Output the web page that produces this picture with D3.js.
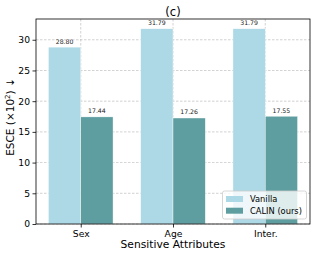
<!DOCTYPE html>
<html><head><meta charset="utf-8">
<script src="https://cdn.jsdelivr.net/npm/d3@7"></script>
<style>body{margin:0;background:#fff}svg{display:block;font-family:"DejaVu Sans",sans-serif}</style>
</head><body><svg id="c" width="316" height="257"></svg>
<script>
const categories = ["Sex", "Age", "Inter."];
const seriesNames = ["Vanilla", "CALIN (ours)"];
const vanilla = [28.80, 31.79, 31.79];
const calin = [17.44, 17.26, 17.55];
const yTicks = [0, 5, 10, 15, 20, 25, 30];
const colors = ["#add8e6", "#5f9ea0"];

const svg = d3.select("#c");
const L = 36, R = 310, T = 19, B = 224;
const x = d3.scaleLinear().domain([-0.485, 2.485]).range([L, R]);
const y = d3.scaleLinear().domain([0, 33.38]).range([B, T]);
const bw = 0.35;

// grid
const g = svg.append("g");
g.selectAll("line.h").data(yTicks).join("line")
  .attr("x1", L).attr("x2", R).attr("y1", d => y(d)).attr("y2", d => y(d))
  .attr("stroke", "#b0b0b0").attr("stroke-width", 0.8).attr("stroke-dasharray", "2.5,1.5").attr("opacity", 0.7);
g.selectAll("line.v").data(categories).join("line")
  .attr("x1", (d,i) => x(i)).attr("x2", (d,i) => x(i)).attr("y1", T).attr("y2", B)
  .attr("stroke", "#b0b0b0").attr("stroke-width", 0.8).attr("stroke-dasharray", "2.5,1.5").attr("opacity", 0.7);

const series = [vanilla, calin];
series.forEach((vals, s) => {
  const off = s === 0 ? -bw/2 : bw/2;
  svg.append("g").selectAll("rect").data(vals).join("rect")
    .attr("x", (d,i) => x(i + off - bw/2))
    .attr("width", x(bw) - x(0))
    .attr("y", d => y(d)).attr("height", d => B - y(d))
    .attr("fill", colors[s]).attr("stroke", "#fff").attr("stroke-width", 0.4);
  svg.append("g").selectAll("text").data(vals).join("text")
    .attr("x", (d,i) => x(i + off)).attr("y", d => y(d) - 3.5)
    .attr("text-anchor", "middle").attr("font-size", 6.2).attr("fill", "#222")
    .text(d => d.toFixed(2));
});

// axes
const yAxis = d3.axisLeft(y).tickValues(yTicks).tickSize(3.5).tickPadding(2.5);
const ya = svg.append("g").attr("transform", `translate(${L},0)`).call(yAxis);
const xAxis = d3.axisBottom(x).tickValues([0,1,2]).tickFormat(i => categories[i]).tickSize(3.5).tickPadding(2.5);
const xa = svg.append("g").attr("transform", `translate(0,${B})`).call(xAxis);
[ya, xa].forEach(a => {
  a.select(".domain").remove();
  a.selectAll("text").attr("font-size", 9.2).attr("fill", "#000").attr("font-family", "DejaVu Sans");
  a.selectAll("line").attr("stroke", "#000").attr("stroke-width", 0.8);
});
svg.append("rect").attr("x", L).attr("y", T).attr("width", R - L).attr("height", B - T)
  .attr("fill", "none").attr("stroke", "#000").attr("stroke-width", 0.8);

// labels
svg.append("text").attr("x", (L+R)/2).attr("y", 16).attr("text-anchor", "middle").attr("font-size", 11.5).text("(c)");
svg.append("text").attr("x", (L+R)/2).attr("y", 248).attr("text-anchor", "middle").attr("font-size", 10.7).text("Sensitive Attributes");
const yl = svg.append("text").attr("transform", "translate(14,117) rotate(-90)").attr("text-anchor", "middle").attr("font-size", 10.5);
yl.append("tspan").text("ESCE (×10");
yl.append("tspan").attr("font-size", 7).attr("dy", -4).text("2");
yl.append("tspan").attr("dy", 4).text(") ↓");

// legend
const lg = svg.append("g");
lg.append("rect").attr("x", 222.5).attr("y", 191).attr("width", 84).attr("height", 28).attr("rx", 2)
  .attr("fill", "#fff").attr("fill-opacity", 0.8).attr("stroke", "#ccc").attr("stroke-width", 0.8);
seriesNames.forEach((n, i) => {
  const yy = 199 + i * 11.7;
  lg.append("rect").attr("x", 226).attr("y", yy - 3).attr("width", 17).attr("height", 6).attr("fill", colors[i]);
  lg.append("text").attr("x", 250).attr("y", yy + 3).attr("font-size", 8.3).text(n);
});
</script></body></html>
